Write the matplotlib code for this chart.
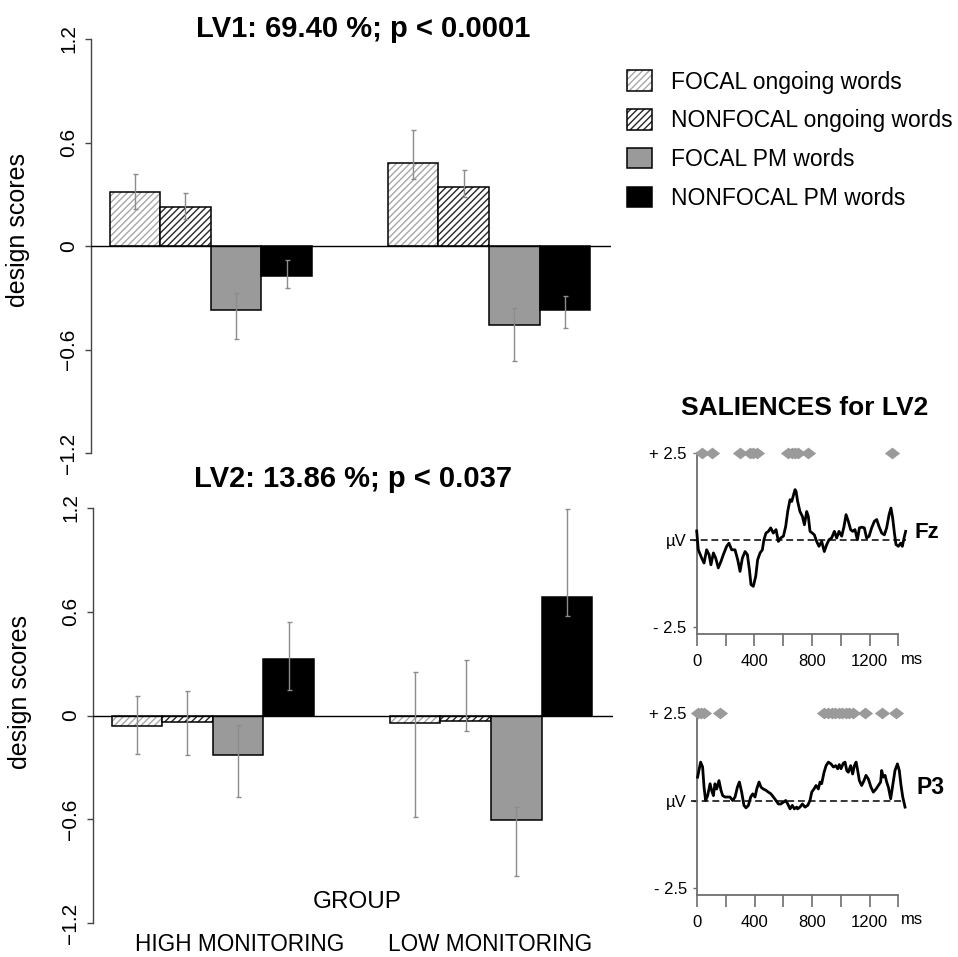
import numpy as np
import matplotlib
matplotlib.use("Agg")
import matplotlib.pyplot as plt

plt.rcParams['font.family'] = ['Liberation Sans', 'DejaVu Sans']
plt.rcParams['hatch.linewidth'] = 1.0

W, H = 958, 957

# bar chart data: rows = condition, columns = (HIGH, LOW monitoring)
groups = ["HIGH MONITORING", "LOW MONITORING"]
conditions = ["FOCAL ongoing words", "NONFOCAL ongoing words",
              "FOCAL PM words", "NONFOCAL PM words"]

lv1_vals = [[0.311, 0.481], [0.226, 0.340], [-0.371, -0.458], [-0.172, -0.371]]
lv1_lo = [[0.215, 0.387], [0.160, 0.286], [-0.535, -0.663], [-0.240, -0.474]]
lv1_hi = [[0.420, 0.672], [0.310, 0.440], [-0.270, -0.358], [-0.080, -0.288]]

lv2_vals = [[-0.060, -0.046], [-0.039, -0.029], [-0.227, -0.606], [0.327, 0.683]]
lv2_lo = [[-0.222, -0.589], [-0.229, -0.089], [-0.470, -0.924], [0.150, 0.577]]
lv2_hi = [[0.111, 0.252], [0.144, 0.321], [-0.056, -0.528], [0.540, 1.195]]

y_ticks = [-1.2, -0.6, 0, 0.6, 1.2]
y_ticklabels = ["\u22121.2", "\u22120.6", "0", "0.6", "1.2"]

# saliences for LV2 (ms, microvolts)
fz_ms = [0, 11, 35, 51, 69, 86, 99, 116, 132, 150, 169, 185, 208, 224, 243, 266,
         285, 301, 317, 336, 352, 366, 377, 393, 410, 423, 440, 456, 467, 481, 498,
         514, 532, 551, 567, 583, 602, 618, 632, 648, 660, 676, 683, 690, 701, 717,
         734, 748, 764, 775, 787, 803, 817, 833, 849, 868, 886, 903, 919, 937, 956,
         972, 988, 1007, 1023, 1037, 1053, 1069, 1083, 1099, 1116, 1130, 1146, 1164,
         1180, 1197, 1215, 1234, 1250, 1266, 1285, 1303, 1319, 1336, 1349, 1361,
         1373, 1384, 1400, 1417, 1428, 1440, 1451]
fz_uv = [0.25, -0.29, -0.53, -0.67, -0.29, -0.43, -0.72, -0.38, -0.53, -0.81, -0.62,
         -0.43, -0.19, -0.10, -0.29, -0.29, -0.58, -0.91, -0.53, -0.34, -0.43, -0.86,
         -1.29, -1.34, -1.05, -0.58, -0.38, -0.29, 0.0, 0.19, 0.24, 0.34, 0.19, 0.29,
         -0.05, 0.05, 0.10, 0.38, 0.81, 1.15, 1.10, 1.34, 1.44, 1.39, 1.10, 0.81, 0.67,
         0.43, 0.81, 0.67, 0.24, 0.19, 0.14, -0.05, -0.19, -0.05, -0.34, -0.14, 0.0,
         0.05, 0.24, 0.05, 0.24, 0.10, 0.38, 0.72, 0.53, 0.29, 0.24, 0.29, 0.0, 0.34,
         0.36, 0.34, 0.05, 0.10, 0.34, 0.53, 0.58, 0.38, 0.19, 0.14, 0.34, 0.72, 0.91,
         0.62, 0.19, -0.14, -0.19, -0.10, -0.19, 0.05, 0.24]
fz_marks = [35, 104, 301, 370, 393, 416, 636, 659, 682, 706, 775, 1354]

p3_ms = [2, 23, 37, 47, 58, 72, 89, 100, 112, 123, 135, 151, 165, 177, 193, 209, 228,
         246, 263, 279, 293, 309, 325, 339, 356, 372, 386, 402, 414, 430, 444, 460,
         479, 495, 513, 530, 548, 565, 581, 599, 616, 630, 646, 662, 676, 692, 699,
         715, 732, 750, 769, 785, 797, 813, 827, 843, 855, 866, 883, 897, 913, 931,
         948, 964, 978, 989, 1001, 1017, 1029, 1041, 1052, 1068, 1082, 1094, 1106,
         1115, 1129, 1145, 1161, 1175, 1191, 1210, 1226, 1245, 1261, 1277, 1284,
         1296, 1308, 1319, 1331, 1347, 1361, 1377, 1394, 1407, 1419, 1431, 1447]
p3_uv = [0.67, 1.10, 0.96, 0.38, 0.0, 0.14, 0.48, 0.29, 0.14, 0.48, 0.33, 0.57, 0.29,
         0.14, 0.10, 0.10, 0.10, 0.0, 0.10, 0.38, 0.53, 0.24, -0.14, -0.21, -0.14,
         0.10, 0.19, 0.10, 0.33, 0.53, 0.38, 0.33, 0.29, 0.24, 0.19, 0.10, 0.0, -0.10,
         -0.10, -0.05, 0.0, -0.10, -0.24, -0.14, -0.24, -0.19, -0.24, -0.19, -0.10,
         -0.19, -0.14, 0.0, 0.24, 0.33, 0.43, 0.33, 0.53, 0.48, 0.81, 1.00, 1.10, 1.05,
         0.96, 1.00, 0.91, 1.03, 0.91, 1.07, 1.10, 0.86, 0.81, 1.00, 0.76, 1.00, 1.10,
         0.91, 0.57, 0.43, 0.57, 0.72, 0.62, 0.38, 0.24, 0.33, 0.43, 0.53, 0.86, 0.67,
         0.72, 0.53, 0.38, 0.05, 0.43, 0.86, 1.05, 0.86, 0.43, 0.10, -0.19]
p3_marks = [5, 25, 45, 160, 885, 910, 935, 960, 985, 1010, 1035, 1060, 1087, 1170,
            1285, 1385]

ms_ticks = [0, 200, 400, 600, 800, 1000, 1200, 1400]
ms_ticklabels = ["0", "", "400", "", "800", "", "1200", ""]

# bar styles
fills = ["white", "white", "#9a9a9a", "black"]
hatch_cols = ["#a8a8a8", "#262626", None, None]

DIAMOND = [(-1.3, 0), (0, 1), (1.3, 0), (0, -1), (-1.3, 0)]


def axes_px(fig, left, top, right, bottom):
    return fig.add_axes([left / W, 1 - bottom / H, (right - left) / W, (bottom - top) / H])


def fig_text(fig, x, y, s, **kw):
    fig.text(x / W, 1 - y / H, s, **kw)


def bar_panel(ax, vals, lo, hi):
    vals = np.array(vals)
    lo = np.array(lo)
    hi = np.array(hi)
    handles = []
    for i in range(len(conditions)):
        x = np.array([0.5 + i, 6.0 + i])
        if hatch_cols[i] is not None:
            layer = ax.bar(x, vals[i], width=1.0, color="white", edgecolor=hatch_cols[i],
                           hatch="/////", linewidth=0, zorder=2)
            edge = ax.bar(x, vals[i], width=1.0, fill=False, edgecolor="black",
                          linewidth=1.1, zorder=2)
            handles.append((layer[0], edge[0]))
        else:
            edge = ax.bar(x, vals[i], width=1.0, color=fills[i], edgecolor="black",
                          linewidth=1.1, zorder=2)
            handles.append(edge[0])
        ax.errorbar(x, vals[i], yerr=[vals[i] - lo[i], hi[i] - vals[i]], fmt="none",
                    ecolor="#8c8c8c", elinewidth=1.0, capsize=1.8, capthick=1.0,
                    zorder=4, clip_on=False)
    ax.axhline(0, color="black", lw=1.0, zorder=3)
    ax.set_xlim(-0.37, 9.91)
    ax.set_ylim(-1.2, 1.2)
    for s in ["top", "right", "bottom"]:
        ax.spines[s].set_visible(False)
    ax.spines["left"].set_color("#444444")
    ax.spines["left"].set_linewidth(1.0)
    ax.set_xticks([])
    ax.set_yticks(y_ticks)
    ax.set_yticklabels(y_ticklabels, rotation=90, va="center")
    ax.tick_params(axis="y", length=4.5, width=1.0, color="#444444", pad=4.5,
                   labelsize=15)
    ax.set_ylabel("design scores", fontsize=18)
    return handles


def salience_panel(ax, ms, uv, marks):
    ax.plot(ms, uv, color="black", lw=2.0, clip_on=False, zorder=3)
    ax.hlines(0, -45, 1450, colors="black", lw=1.1, linestyles=(0, (4.5, 2.5)),
              clip_on=False, zorder=2)
    ax.plot(marks, [2.5] * len(marks), ls="none", marker=DIAMOND, ms=11,
            color="#9a9a9a", mec="none", clip_on=False, zorder=4)
    ax.set_xlim(0, 1400)
    ax.set_ylim(-2.5, 2.5)
    for s in ["top", "right"]:
        ax.spines[s].set_visible(False)
    for s in ["left", "bottom"]:
        ax.spines[s].set_color("#6e6e6e")
        ax.spines[s].set_linewidth(1.3)
    ax.spines["bottom"].set_position(("outward", 5))
    ax.spines["left"].set_bounds(-2.7, 2.5)
    ax.set_yticks([-2.5, 0, 2.5])
    ax.set_yticklabels(["- 2.5", "\u00b5V", "+ 2.5"])
    ax.tick_params(axis="y", length=3, width=1.0, color="#6e6e6e", pad=4.5,
                   labelsize=12)
    ax.set_xticks(ms_ticks)
    ax.set_xticklabels(ms_ticklabels)
    ax.tick_params(axis="x", length=8.5, width=1.2, color="#6e6e6e", pad=6,
                   labelsize=12)


fig = plt.figure(figsize=(W / 100, H / 100), dpi=100)

ax1 = axes_px(fig, 90.9, 39.0, 610.9, 453.3)
handles = bar_panel(ax1, lv1_vals, lv1_lo, lv1_hi)
ax1.yaxis.set_label_coords(-0.118, 0.539)

ax2 = axes_px(fig, 92.9, 507.7, 612.9, 923.3)
bar_panel(ax2, lv2_vals, lv2_lo, lv2_hi)
ax2.yaxis.set_label_coords(-0.118, 0.557)

fig_text(fig, 362.8, 36.7, "LV1: 69.40 %; p < 0.0001", ha="center", va="baseline",
         fontsize=21, fontweight="bold")
fig_text(fig, 352.9, 486.7, "LV2: 13.86 %; p < 0.037", ha="center", va="baseline",
         fontsize=21, fontweight="bold")
fig_text(fig, 356.7, 908, "GROUP", ha="center", va="baseline", fontsize=17.5)
fig_text(fig, 240, 951, groups[0], ha="center", va="baseline", fontsize=16.3)
fig_text(fig, 490, 951, groups[1], ha="center", va="baseline", fontsize=16.3)

fig.legend(handles, conditions, loc="upper left", bbox_to_anchor=(627 / W, 1 - 70.5 / H),
           frameon=False, fontsize=16.5, handlelength=1.09, handleheight=1.0,
           handletextpad=0.85, labelspacing=0.68, borderpad=0, borderaxespad=0)

# saliences
fig_text(fig, 804.2, 415, "SALIENCES for LV2", ha="center", va="baseline",
         fontsize=19, fontweight="bold")

ax3 = axes_px(fig, 696.7, 452.7, 898.3, 626.7)
salience_panel(ax3, fz_ms, fz_uv, fz_marks)
ax4 = axes_px(fig, 697.3, 713.3, 898.3, 887.7)
salience_panel(ax4, p3_ms, p3_uv, p3_marks)

fig_text(fig, 915, 532.7, "Fz", ha="left", va="center", fontsize=16, fontweight="bold")
fig_text(fig, 916.7, 788, "P3", ha="left", va="center", fontsize=16.5, fontweight="bold")
fig_text(fig, 911.7, 660, "ms", ha="center", va="center", fontsize=12)
fig_text(fig, 911.7, 920, "ms", ha="center", va="center", fontsize=12)

fig.savefig("out.png", dpi=100)
